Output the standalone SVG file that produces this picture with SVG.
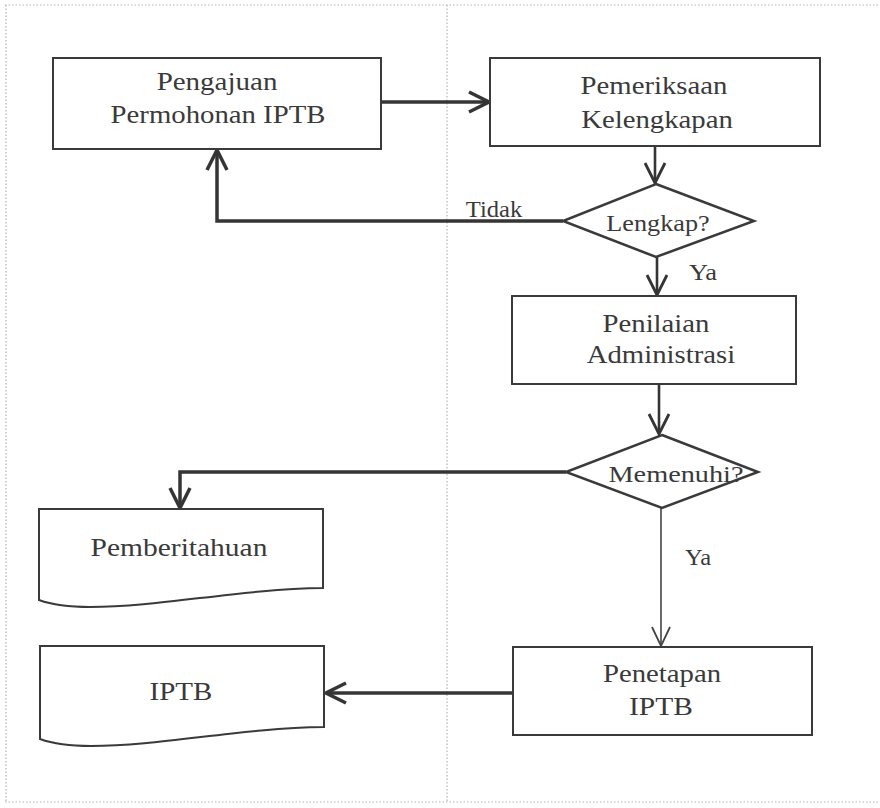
<svg xmlns="http://www.w3.org/2000/svg" width="880" height="808" viewBox="0 0 880 808">
  <style>
    .frame { stroke: #b4b4b4; stroke-width: 1.2; stroke-dasharray: 1.5 2; fill: none; }
    .box { fill: #ffffff; stroke: #3a3a3a; stroke-width: 2; }
    .dec { fill: #ffffff; stroke: #3a3a3a; stroke-width: 2.5; stroke-linejoin: miter; }
    .lbl { font-family: "Liberation Serif", "Times New Roman", serif; font-size: 25px; fill: #3a3a3a; text-anchor: middle; }
    .small { font-size: 23px; }
    .thick { stroke: #353535; stroke-width: 3.5; fill: none; marker-end: url(#headThick); }
    .mid { stroke: #353535; stroke-width: 2.6; fill: none; marker-end: url(#headMid); }
    .thin { stroke: #444444; stroke-width: 1.6; fill: none; marker-end: url(#headThin); }
  </style>
  <defs>
    <marker id="headThick" markerUnits="userSpaceOnUse" markerWidth="26" markerHeight="26" viewBox="0 0 26 26" refX="23" refY="13" orient="auto">
      <path d="M3,3 L23,13 L3,23" fill="none" stroke="#353535" stroke-width="3.5" stroke-linejoin="miter"/>
    </marker>
    <marker id="headMid" markerUnits="userSpaceOnUse" markerWidth="26" markerHeight="26" viewBox="0 0 26 26" refX="23" refY="13" orient="auto">
      <path d="M3,3 L23,13 L3,23" fill="none" stroke="#353535" stroke-width="2.8" stroke-linejoin="miter"/>
    </marker>
    <marker id="headThin" markerUnits="userSpaceOnUse" markerWidth="26" markerHeight="26" viewBox="0 0 26 26" refX="23" refY="13" orient="auto">
      <path d="M4,4 L23,13 L4,22" fill="none" stroke="#444444" stroke-width="1.8"/>
    </marker>
  </defs>

  <rect width="880" height="808" fill="#ffffff"/>

  <!-- dotted page frame and column divider -->
  <g id="frame">
    <path class="frame" d="M5,5 H880 M6,5 V802 M447,5 V802 M5,802 H880"/>
  </g>

  <!-- connectors; labels are widened with a horizontal scale -->
  <g id="connectors">
    <path class="thick" d="M381,102 H489"/>
    <path class="mid" d="M655,146 V183"/>
    <path class="thick" d="M563,221 H217 V150"/>
    <path class="mid" d="M657,257 V295"/>
    <path class="mid" d="M659,384 V434"/>
    <path class="thick" d="M566,472 H180 V508"/>
    <path class="thin" d="M661,508 V646"/>
    <path class="thick" d="M512,693 H326"/>
    <text class="lbl small" transform="translate(494,217) scale(1.07,1)">Tidak</text>
    <text class="lbl small" transform="translate(703,280) scale(1.15,1)">Ya</text>
    <text class="lbl small" transform="translate(698,565) scale(1.07,1)">Ya</text>
  </g>

  <g id="pengajuan">
    <rect class="box" x="53" y="58" width="328" height="91"/>
    <text class="lbl" transform="translate(217,90) scale(1.16,1)">Pengajuan</text>
    <text class="lbl" transform="translate(218,123) scale(1.15,1)">Permohonan IPTB</text>
  </g>

  <g id="pemeriksaan">
    <rect class="box" x="490" y="58" width="330" height="88"/>
    <text class="lbl" transform="translate(654,94) scale(1.15,1)">Pemeriksaan</text>
    <text class="lbl" transform="translate(657,128) scale(1.15,1)">Kelengkapan</text>
  </g>

  <g id="lengkap">
    <polygon class="dec" points="656,184 754,221 656,257 563,221"/>
    <text class="lbl small" transform="translate(658,231) scale(1.14,1)">Lengkap?</text>
  </g>

  <g id="penilaian">
    <rect class="box" x="512" y="296" width="284" height="88"/>
    <text class="lbl" transform="translate(656,332) scale(1.15,1)">Penilaian</text>
    <text class="lbl" transform="translate(661,363) scale(1.15,1)">Administrasi</text>
  </g>

  <g id="memenuhi">
    <polygon class="dec" points="662,435 758,472 662,508 566,472"/>
    <text class="lbl small" transform="translate(676,482) scale(1.23,1)">Memenuhi?</text>
  </g>

  <g id="pemberitahuan">
    <path class="box" d="M39,509 H323 V588 C240,589 160,607 90,607 C65,607 50,604 39,600 Z"/>
    <text class="lbl" transform="translate(179,556) scale(1.18,1)">Pemberitahuan</text>
  </g>

  <g id="penetapan">
    <rect class="box" x="513" y="647" width="299" height="88"/>
    <text class="lbl" transform="translate(662,682) scale(1.15,1)">Penetapan</text>
    <text class="lbl" transform="translate(661,715) scale(1.18,1)">IPTB</text>
  </g>

  <g id="iptb">
    <path class="box" d="M40,646 H324 V727 C241,728 161,746 91,746 C66,746 51,743 40,739 Z"/>
    <text class="lbl" transform="translate(181,700) scale(1.16,1)">IPTB</text>
  </g>
</svg>
